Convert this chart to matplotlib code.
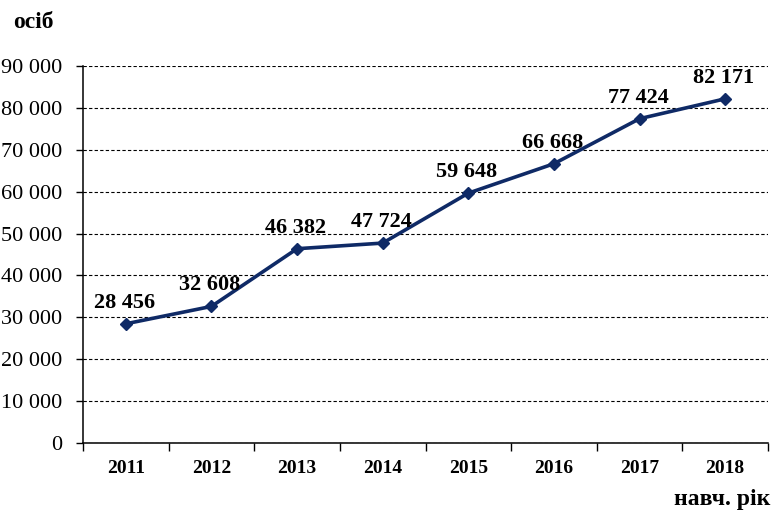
import matplotlib.pyplot as plt
from matplotlib.ticker import FuncFormatter, MultipleLocator
import numpy as np

# Data
years = ["2011", "2012", "2013", "2014", "2015", "2016", "2017", "2018"]
students = [28456, 32608, 46382, 47724, 59648, 66668, 77424, 82171]

plt.rcParams['font.family'] = ['Liberation Serif', 'DejaVu Serif']

fig = plt.figure(figsize=(7.73, 5.12), dpi=100)
ax = fig.add_axes([83 / 773, 1 - 443 / 512, (768 - 83) / 773, (443 - 66) / 512])

x = np.arange(len(years))
ax.plot(x, students, color="#0f2a66", lw=2.6, marker="D", ms=6, zorder=3)

for xi, v in zip(x, students):
    ax.annotate(f"{v:,}".replace(",", " "), (xi, v), xytext=(-1, 8),
                textcoords="offset points", ha="center", va="bottom",
                fontsize=16, fontweight="bold")

ax.set_xlim(-0.5, len(years) - 0.5)
ax.set_ylim(0, 90000)
ax.yaxis.set_major_locator(MultipleLocator(10000))
ax.yaxis.set_major_formatter(FuncFormatter(lambda v, p: f"{int(v):,}".replace(",", " ")))

ax.set_xticks(x)
ax.set_xticklabels(years, fontweight="bold", fontsize=14)
ax.set_xticks(np.arange(-0.5, len(years)), minor=True)
ax.tick_params(axis="x", which="major", length=0, pad=12)
ax.tick_params(axis="x", which="minor", length=6, direction="out", width=1)
ax.tick_params(axis="y", length=5, width=1, pad=10, labelsize=16)

ax.grid(axis="y", linestyle=(0, (3, 2)), color="black", lw=0.8)
ax.set_axisbelow(True)
for s in ["top", "right"]:
    ax.spines[s].set_visible(False)
for s in ["left", "bottom"]:
    ax.spines[s].set_linewidth(1.1)

fig.text(33 / 773, 1 - 22 / 512, "осіб", ha="center", va="center",
         fontsize=17, fontweight="bold")
fig.text(770 / 773, 1 - 500 / 512, "навч. рік", ha="right", va="center",
         fontsize=17, fontweight="bold")

fig.savefig("out.png", dpi=100)
